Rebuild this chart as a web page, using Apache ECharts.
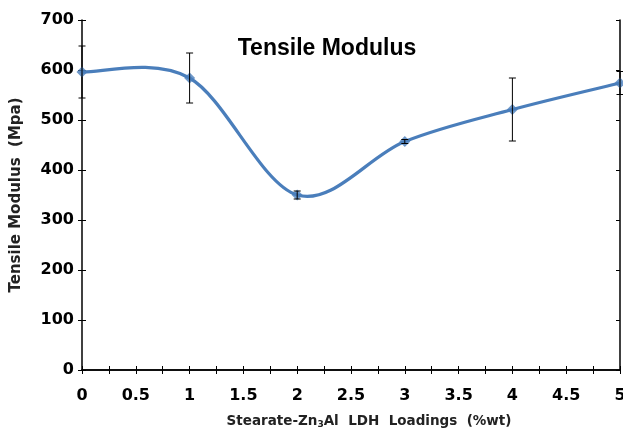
<!DOCTYPE html>
<html>
<head>
<meta charset="utf-8">
<script src="https://cdn.jsdelivr.net/npm/echarts@6/dist/echarts.min.js"></script>
<style>
  html, body { margin: 0; padding: 0; background: #fff; }
  #chart { width: 623px; height: 432px; }
</style>
</head>
<body>
<div id="chart"></div>
<script>
// Tensile modulus vs. Stearate-Zn3Al LDH loading, with standard deviation bars
const loadings = [0, 1, 2, 3, 4, 5];
const modulus = [596, 584, 350, 457, 521, 574];
const errors = [52, 50, 8, 4, 63, 23];
const yTicks = [0, 100, 200, 300, 400, 500, 600, 700];

const blue = '#4a7ebb';
const axisFont = 'DejaVu Sans, Verdana, sans-serif';
const labelFont = { fontFamily: axisFont, fontWeight: 'bold', fontSize: 16, color: '#000' };

const chart = echarts.init(document.getElementById('chart'), null, { renderer: 'canvas' });

const linePoints = loadings.map((x, i) => [x, modulus[i]]);
const errPoints = loadings.map((x, i) => [x, modulus[i] - errors[i], modulus[i] + errors[i]]);

// Smooth connecting curve: cubic Bezier segments (Catmull-Rom style tangents)
// built in pixel space from the data points projected by the axes.
function renderCurve(params, api) {
  const i = params.dataIndex;
  const n = loadings.length;
  if (i >= n - 1) return null;
  const pt = k => {
    const j = Math.max(0, Math.min(n - 1, k));
    return api.coord([loadings[j], modulus[j]]);
  };
  const p0 = pt(i - 1), p1 = pt(i), p2 = pt(i + 1), p3 = pt(i + 2);
  const t = 1 / 6;
  return {
    type: 'bezierCurve',
    shape: {
      x1: p1[0], y1: p1[1],
      cpx1: p1[0] + (p2[0] - p0[0]) * t, cpy1: p1[1] + (p2[1] - p0[1]) * t,
      cpx2: p2[0] - (p3[0] - p1[0]) * t, cpy2: p2[1] - (p3[1] - p1[1]) * t,
      x2: p2[0], y2: p2[1]
    },
    style: { stroke: blue, lineWidth: 3.2, fill: null, lineCap: 'round' }
  };
}

function renderErr(params, api) {
  const x = api.value(0);
  const lo = api.coord([x, api.value(1)]);
  const hi = api.coord([x, api.value(2)]);
  const cap = 3.5;
  const style = { stroke: '#000', lineWidth: 1 };
  return {
    type: 'group',
    children: [
      { type: 'line', shape: { x1: lo[0], y1: lo[1], x2: hi[0], y2: hi[1] }, style: style },
      { type: 'line', shape: { x1: lo[0] - cap, y1: lo[1], x2: lo[0] + cap, y2: lo[1] }, style: style },
      { type: 'line', shape: { x1: hi[0] - cap, y1: hi[1], x2: hi[0] + cap, y2: hi[1] }, style: style }
    ]
  };
}

chart.setOption({
  animation: false,
  backgroundColor: '#fff',
  title: {
    text: 'Tensile Modulus',
    left: 322,
    top: 32,
    textAlign: 'center',
    textStyle: { fontFamily: 'Liberation Sans, Arial, sans-serif', fontWeight: 'bold', fontSize: 23, color: '#000' }
  },
  grid: { left: 82, right: 3, top: 20, bottom: 62, outerBoundsMode: 'none', containLabel: false },
  xAxis: [
    {
      type: 'value', min: 0, max: 5, interval: 0.5,
      axisLine: { show: true, onZero: false, lineStyle: { color: '#000', width: 1.5 } },
      axisTick: { show: true, inside: true, length: 4, lineStyle: { color: '#000' } },
      minorTick: { show: true, splitNumber: 2, length: 4, lineStyle: { color: '#000' } },
      splitLine: { show: false },
      axisLabel: Object.assign({ margin: 18 }, labelFont),
      name: '{t|Stearate-Zn}{s|3}{t|Al  LDH  Loadings  (%wt)}',
      nameLocation: 'middle',
      nameGap: 44,
      nameTextStyle: {
        padding: [0, 0, 0, 36],
        rich: {
          t: { fontFamily: axisFont, fontWeight: 'bold', fontSize: 13.5, color: '#222' },
          s: { fontFamily: axisFont, fontWeight: 'bold', fontSize: 9, color: '#222', verticalAlign: 'bottom', padding: [6, 0, 0, 0] }
        }
      }
    },
    {
      type: 'value', min: 0, max: 5, interval: 0.5, position: 'top',
      axisLine: { show: true, lineStyle: { color: '#000', width: 1.5 } },
      axisTick: { show: true, inside: true, length: 4, lineStyle: { color: '#000' } },
      minorTick: { show: true, splitNumber: 2, length: 4, lineStyle: { color: '#000' } },
      splitLine: { show: false },
      axisLabel: { show: false }
    }
  ],
  yAxis: [
    {
      type: 'value', min: yTicks[0], max: yTicks[yTicks.length - 1], interval: 100,
      axisLine: { show: true, lineStyle: { color: '#000', width: 1.5 } },
      axisTick: { show: true, length: 4, lineStyle: { color: '#000' } },
      splitLine: { show: false },
      axisLabel: Object.assign({ margin: 8 }, labelFont),
      name: 'Tensile Modulus  (Mpa)',
      nameLocation: 'middle',
      nameGap: 58,
      nameTextStyle: { fontFamily: axisFont, fontWeight: 'bold', fontSize: 15, color: '#222' }
    },
    {
      type: 'value', min: 0, max: 700, interval: 100, position: 'left',
      axisLine: { show: false },
      axisTick: { show: true, inside: true, length: 4, lineStyle: { color: '#000' } },
      splitLine: { show: false },
      axisLabel: { show: false }
    },
    {
      type: 'value', min: 0, max: 700, interval: 100, position: 'right',
      axisLine: { show: true, lineStyle: { color: '#000', width: 1.5 } },
      axisTick: { show: true, inside: true, length: 4, lineStyle: { color: '#000' } },
      splitLine: { show: false },
      axisLabel: { show: false }
    }
  ],
  series: [
    {
      type: 'custom',
      data: linePoints,
      renderItem: renderCurve,
      z: 3
    },
    {
      type: 'scatter',
      data: linePoints,
      symbol: 'diamond',
      symbolSize: 11,
      itemStyle: { color: blue },
      z: 4
    },
    {
      type: 'custom',
      data: errPoints,
      renderItem: renderErr,
      z: 5
    }
  ]
});
</script>
</body>
</html>
